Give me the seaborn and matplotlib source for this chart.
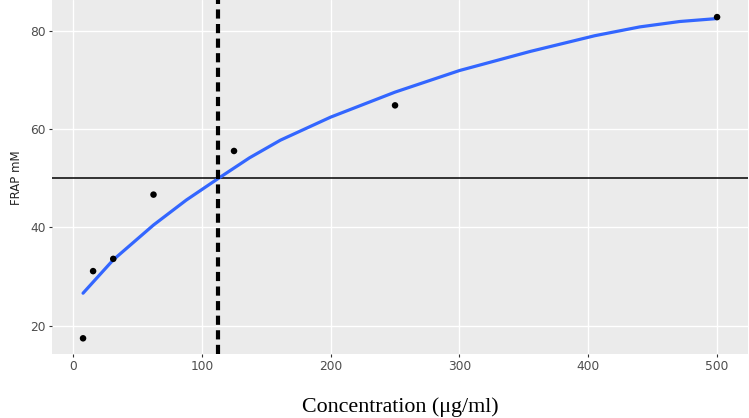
import matplotlib
matplotlib.use("Agg")
import matplotlib.pyplot as plt
import seaborn as sns
import pandas as pd

# observed data points
conc = [7.8, 15.6, 31.25, 62.5, 125, 250, 500]
frap = [17.4, 31.1, 33.6, 46.7, 55.6, 64.9, 82.9]

# smoothed curve
fit_x = [7.8, 31.25, 62.5, 88, 112.8, 137, 161, 200, 250, 300, 355, 405, 440, 471, 500]
fit_y = [26.6, 33.4, 40.5, 45.6, 50.0, 54.2, 57.8, 62.5, 67.6, 72.0, 75.9, 79.1, 80.9, 82.0, 82.6]

ic50_x = 112.8
ref_y = 50

x_ticks = [0, 100, 200, 300, 400, 500]
y_ticks = [20, 40, 60, 80]

pts = pd.DataFrame({"conc": conc, "frap": frap})
fit = pd.DataFrame({"x": fit_x, "y": fit_y})

sns.set_theme(style="darkgrid")
plt.rcParams["font.family"] = ["DejaVu Sans"]

fig = plt.figure(figsize=(7.49, 4.18), dpi=100)
ax = fig.add_axes([52/749, 1 - 354/418, (748 - 52)/749, 354/418 - 0.001])
ax.set_facecolor("#EBEBEB")
ax.grid(True, color="white", linewidth=1.0)
for s in ax.spines.values():
    s.set_visible(False)

sns.lineplot(data=fit, x="x", y="y", ax=ax, color="#3366FF", linewidth=2.3, zorder=3)
sns.scatterplot(data=pts, x="conc", y="frap", ax=ax, color="black", s=22,
                edgecolor="none", zorder=4)
ax.axhline(ref_y, color="black", linewidth=1.1, zorder=2)
ax.axvline(ic50_x, color="black", linewidth=3.0, linestyle=(0, (2.2, 1.3)), zorder=5)

ax.set_xlim(-16.3, 524)
ax.set_ylim(14.2, 86.3)
ax.set_xticks(x_ticks)
ax.set_yticks(y_ticks)
ax.tick_params(axis="both", which="major", length=2.5, width=0.8, color="#333333",
               labelsize=8.8, labelcolor="#4D4D4D", pad=2, bottom=True, left=True)

ax.set_ylabel("FRAP mM", fontsize=8.5, color="#222222", labelpad=5)
ax.set_xlabel("Concentration (\u03bcg/ml)", fontsize=15.8, family="Liberation Serif",
              color="black", labelpad=17)

fig.savefig("out.png", dpi=100)
